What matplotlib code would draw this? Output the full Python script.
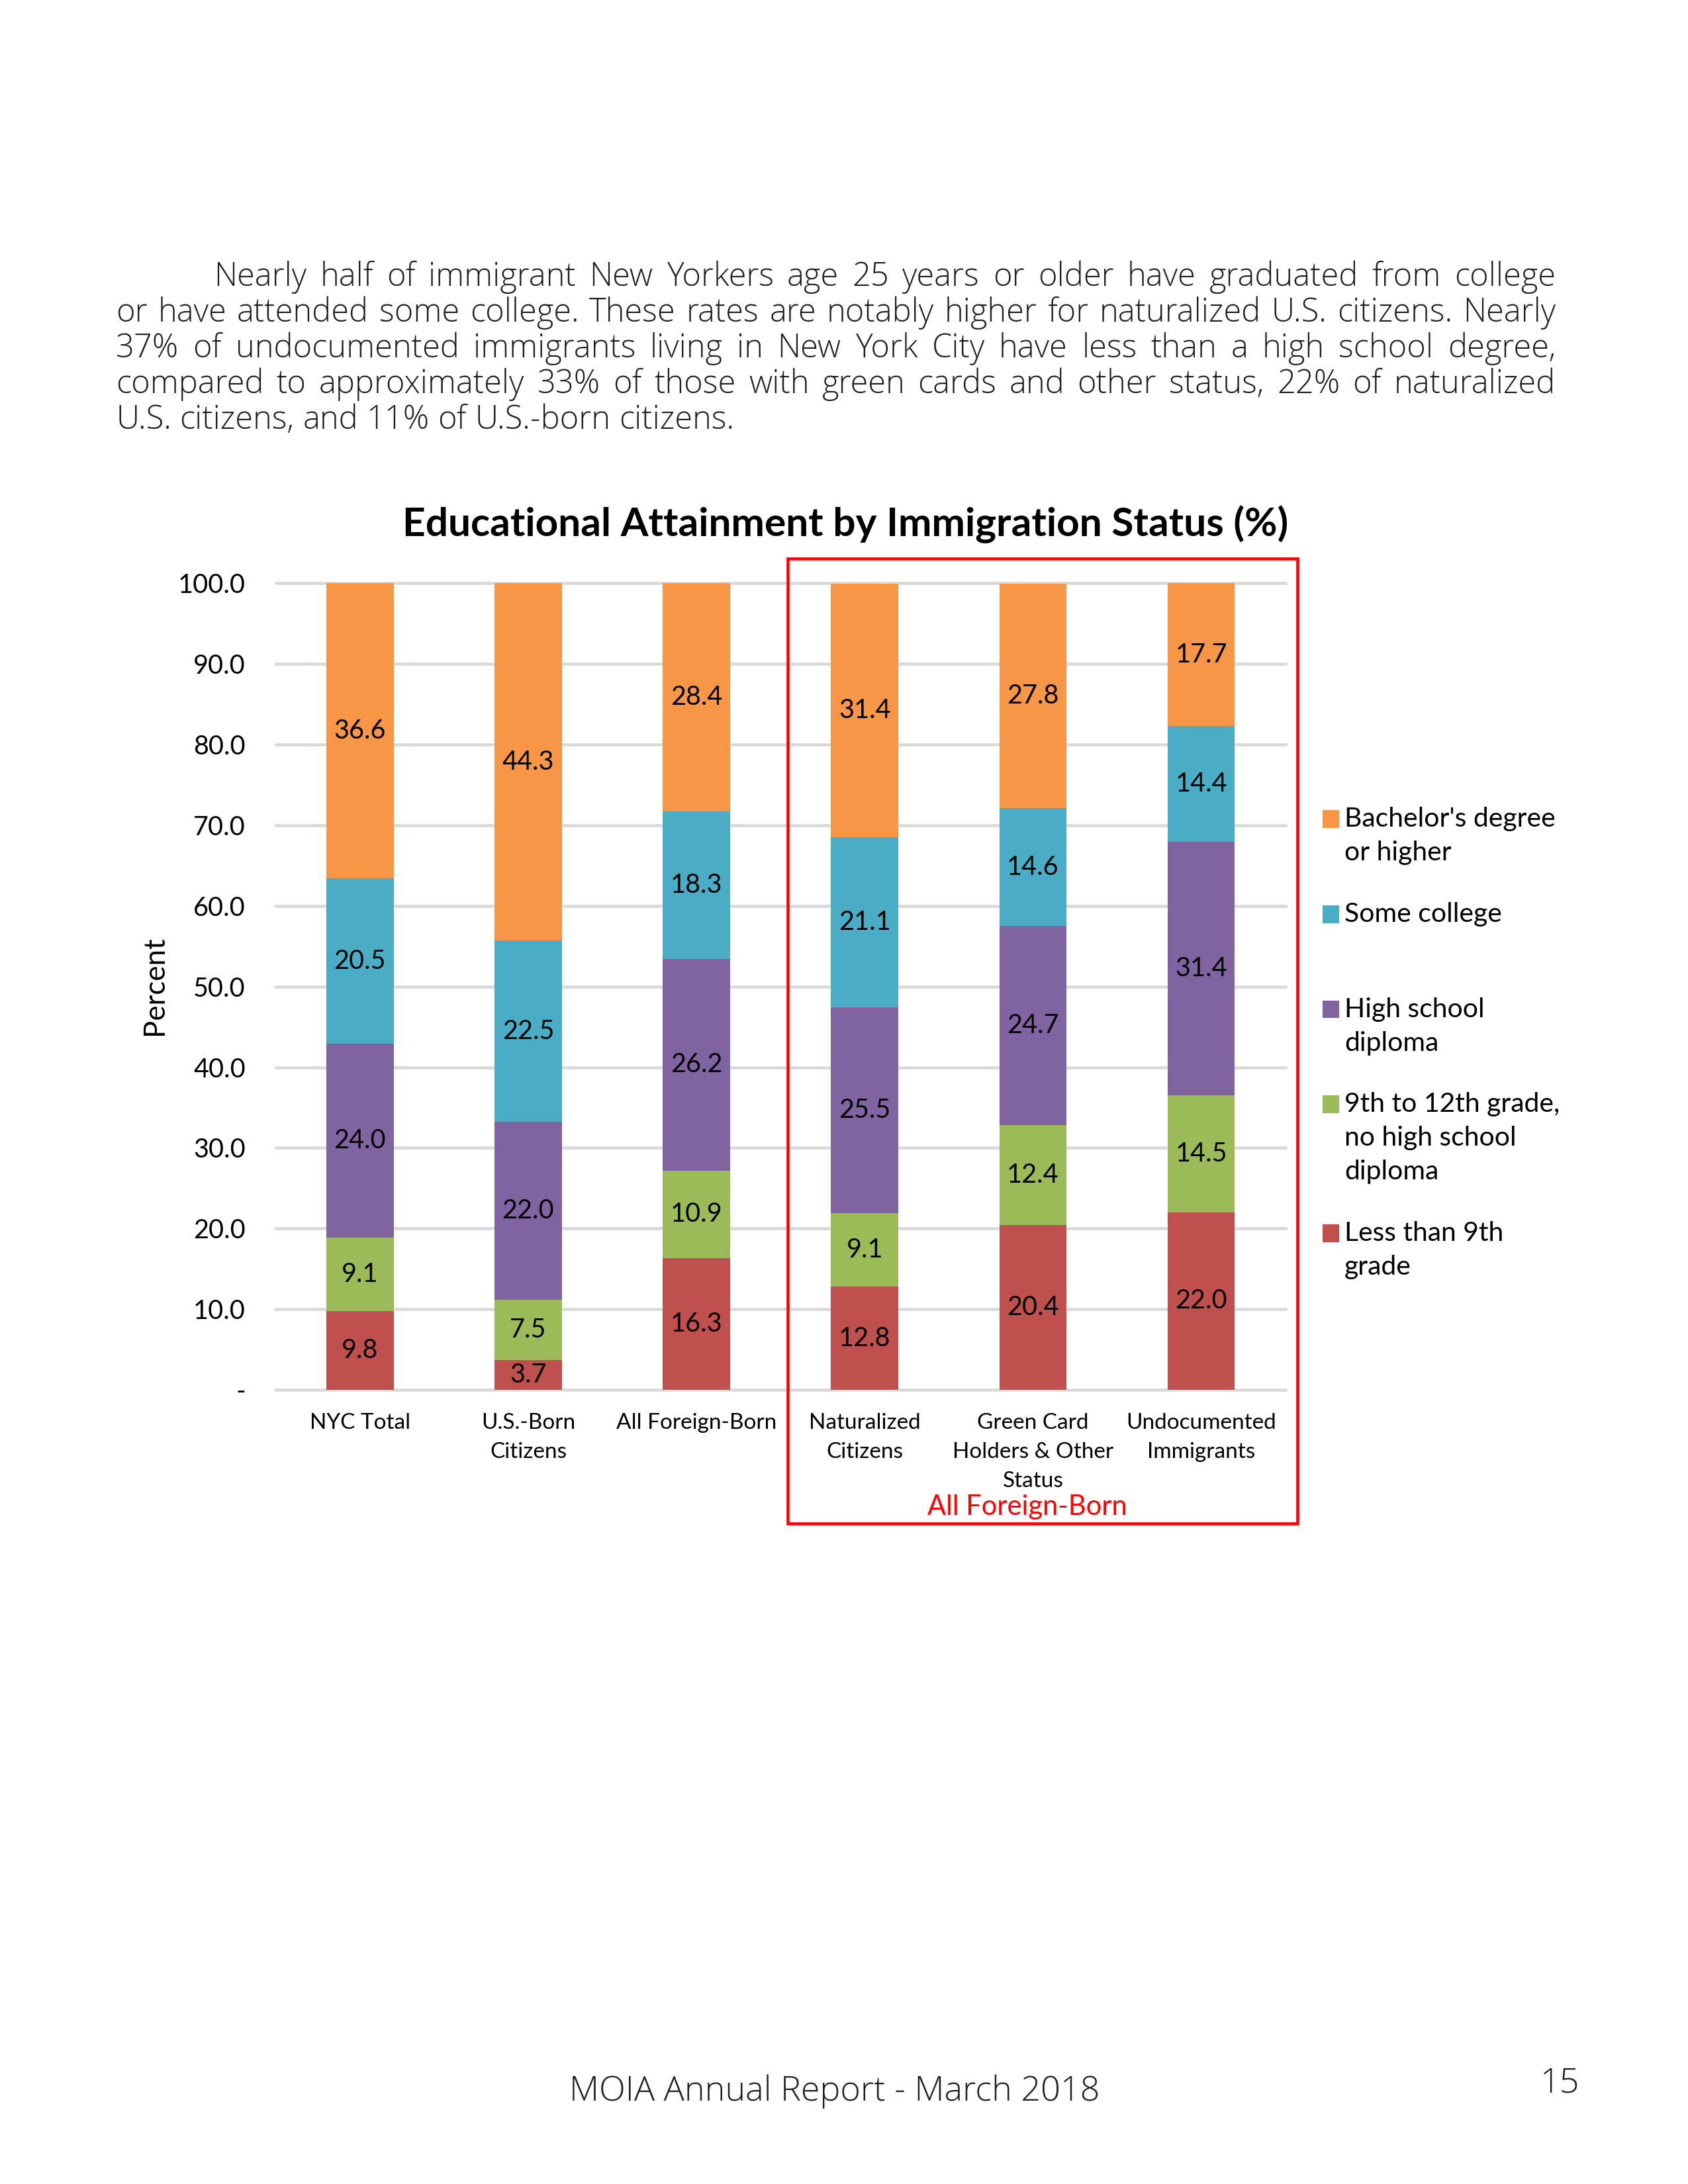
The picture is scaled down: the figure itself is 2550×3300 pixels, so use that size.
import matplotlib
matplotlib.use("Agg")
import matplotlib.pyplot as plt
import matplotlib.patches as patches

# --- dati ---
categories = ["NYC Total", "U.S.-Born\nCitizens", "All Foreign-Born",
              "Naturalized\nCitizens", "Green Card\nHolders & Other\nStatus",
              "Undocumented\nImmigrants"]
less_9th = [9.8, 3.7, 16.3, 12.8, 20.4, 22.0]
grade_9_12 = [9.1, 7.5, 10.9, 9.1, 12.4, 14.5]
high_school = [24.0, 22.0, 26.2, 25.5, 24.7, 31.4]
some_college = [20.5, 22.5, 18.3, 21.1, 14.6, 14.4]
bachelor = [36.6, 44.3, 28.4, 31.4, 27.8, 17.7]
yticks = [0, 10, 20, 30, 40, 50, 60, 70, 80, 90, 100]

series_names = ["Less than 9th\ngrade", "9th to 12th grade,\nno high school\ndiploma",
                "High school\ndiploma", "Some college", "Bachelor's degree\nor higher"]
series_vals = [less_9th, grade_9_12, high_school, some_college, bachelor]
colors = ["#C0504D", "#9BBB59", "#8064A2", "#4BACC6", "#F79646"]

paragraph = [
    "Nearly half of immigrant New Yorkers age 25 years or older have graduated from college",
    "or have attended some college. These rates are notably higher for naturalized U.S. citizens. Nearly",
    "37% of undocumented immigrants living in New York City have less than a high school degree,",
    "compared to approximately 33% of those with green cards and other status, 22% of naturalized",
    "U.S. citizens, and 11% of U.S.-born citizens.",
]

CHART_FONT = ["Lato", "DejaVu Sans"]
TEXT_FONT = ["Open Sans", "DejaVu Sans"]

W, H = 1224.0, 1584.0  # coordinate della pagina di riferimento


def fx(x):
    return x / W


def fy(y):
    return 1 - y / H


def justified(fig, lines, x0, x1, y0, lh, indent, **kw):
    r = fig.canvas.get_renderer()
    probe = fig.text(0, 0, "x x", **kw)
    probe2 = fig.text(0, 0, "xx", **kw)
    space = (probe.get_window_extent(r).width - probe2.get_window_extent(r).width) / fig.bbox.width
    probe.remove()
    probe2.remove()
    for i, line in enumerate(lines):
        words = line.split()
        left = x0 + (indent if i == 0 else 0)
        texts = [fig.text(0, y0 - i * lh, w, va="center", ha="left", **kw) for w in words]
        widths = [t.get_window_extent(r).width / fig.bbox.width for t in texts]
        if i == len(lines) - 1:
            gap = space
        else:
            gap = (x1 - left - sum(widths)) / (len(words) - 1)
        x = left
        for t, w in zip(texts, widths):
            t.set_x(x)
            x += w + gap


if __name__ == "__main__":
    fig = plt.figure(figsize=(8.5, 11), dpi=300)

    # paragrafo giustificato
    justified(fig, paragraph, fx(84), fx(1128), fy(201), 26 / H, fx(71),
              fontsize=11.7, family=TEXT_FONT, fontweight="light", color="#231F20")

    # --- grafico ---
    ax = fig.add_axes([fx(200), fy(1008), fx(932) - fx(200), fy(423) - fy(1008)])
    x = range(len(categories))
    bottom = [0.0] * len(categories)
    for name, vals, col in zip(series_names, series_vals, colors):
        bars = ax.bar(x, vals, width=0.4, bottom=bottom, color=col, zorder=3)
        ax.bar_label(bars, labels=[f"{v:.1f}" for v in vals], label_type="center",
                     fontsize=9.5, family=CHART_FONT, color="black")
        bottom = [b + v for b, v in zip(bottom, vals)]

    ax.set_xlim(-0.5, len(categories) - 0.5)
    ax.set_ylim(0, 100)
    ax.set_yticks(yticks)
    ax.set_yticklabels(["-"] + [f"{v:.1f}" for v in yticks[1:]])
    ax.set_xticks(list(x))
    ax.set_xticklabels(categories, linespacing=1.58)
    ax.tick_params(axis="both", length=0)
    ax.tick_params(axis="y", pad=11, labelsize=9.5)
    ax.tick_params(axis="x", pad=8.5, labelsize=8)
    for lbl in ax.get_xticklabels() + ax.get_yticklabels():
        lbl.set_family(CHART_FONT)
    for s in ax.spines.values():
        s.set_visible(False)
    ax.yaxis.grid(True, color="#D9D9D9", linewidth=1.1, zorder=0)
    for gl in ax.get_ygridlines():
        gl.set_clip_on(False)
    ax.set_axisbelow(True)

    fig.text(fx(112), fy(715), "Percent", rotation=90, ha="center", va="center",
             fontsize=10.5, family=CHART_FONT)
    fig.text(fx(613), fy(380), "Educational Attainment by Immigration Status (%)",
             ha="center", va="center", fontsize=14.5, fontweight="bold", family=CHART_FONT)

    # riquadro rosso
    fig.add_artist(patches.Rectangle((fx(571), fy(1105)), fx(941) - fx(571), fy(405) - fy(1105),
                                     transform=fig.transFigure, fill=False,
                                     edgecolor="#FF0000", linewidth=1.1))
    fig.text(fx(745), fy(1093), "All Foreign-Born", color="#FF0000", ha="center",
             va="center", fontsize=10.0, family=CHART_FONT)

    # legenda manuale (ordine dall'alto)
    y = 594
    line_h = 24.5
    for name, col in zip(series_names[::-1], colors[::-1]):
        rows = name.split("\n")
        fig.add_artist(patches.Rectangle((fx(960), fy(y) - 5.5 / H), fx(10), 11 / H,
                                         transform=fig.transFigure, color=col))
        for i, row in enumerate(rows):
            fig.text(fx(975), fy(y + i * line_h), row, ha="left", va="center",
                     fontsize=9.8, family=CHART_FONT)
        y += max(2, len(rows)) * line_h + 20

    # piè di pagina
    fig.text(fx(605), fy(1517), "MOIA Annual Report - March 2018", ha="center", va="center",
             fontsize=12.5, family=TEXT_FONT, fontweight="light", color="#231F20")
    fig.text(fx(1131), fy(1511), "15", ha="center", va="center",
             fontsize=12.5, family=TEXT_FONT, fontweight="light", color="#231F20")

    fig.savefig("out.png", dpi=300)
    plt.close(fig)
